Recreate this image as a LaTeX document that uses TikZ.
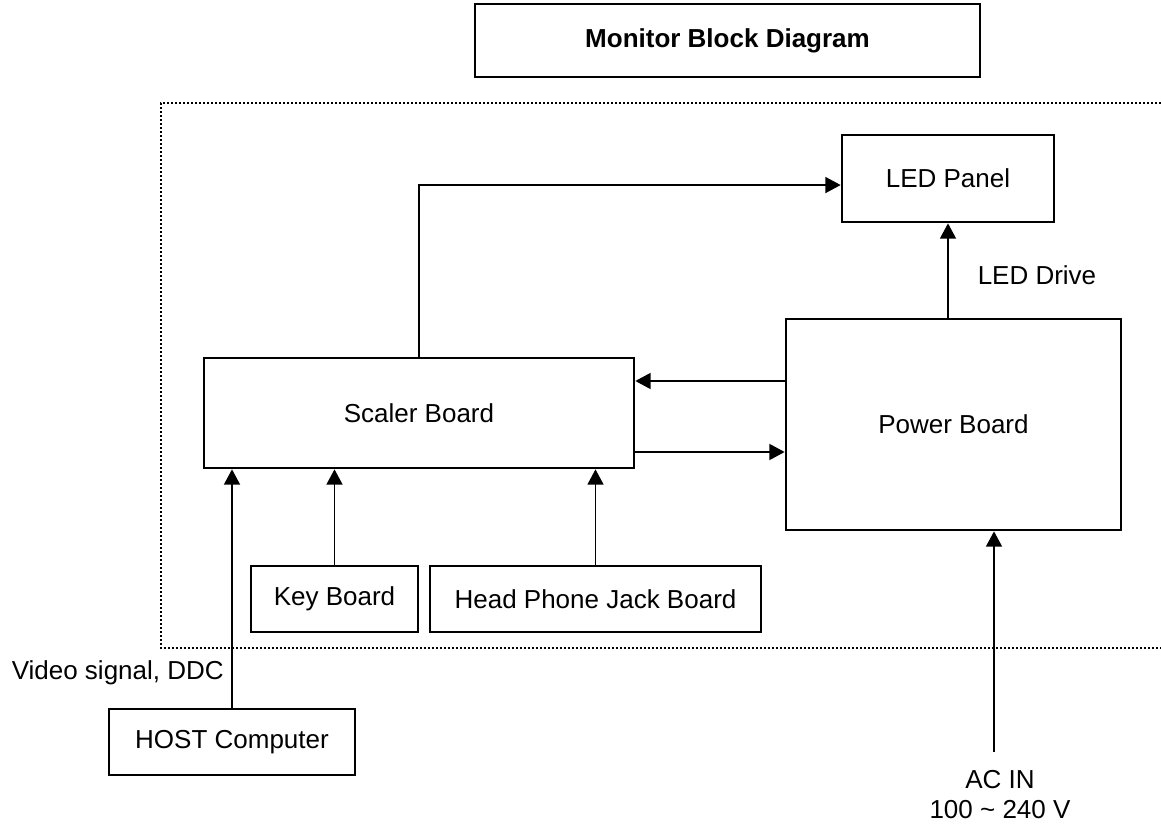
\documentclass[tikz,border=0pt]{standalone}
\usepackage{fontspec}
\setmainfont{Liberation Sans}
\usetikzlibrary{calc}
\usetikzlibrary{arrows.meta}

\begin{document}
\begin{tikzpicture}[x=0.75pt,y=-0.75pt,
		blk/.style={draw,line width=2pt,inner sep=0pt,font=\fontsize{19.5}{23}\selectfont},
		lbl/.style={inner sep=0pt,font=\fontsize{19.5}{22.5}\selectfont},
		sig/.style={line width=1.3pt,-{Triangle[length=11.5pt,width=12pt]}},
		frame/.style={line width=1.8pt,dash pattern=on 1.6pt off 1.4pt}]
		\useasboundingbox (0,0) rectangle (1161,827);
		% blocks
		\node[blk,minimum width=378.75pt,minimum height=54.75pt,font=\fontsize{19.5}{23}\selectfont\bfseries] (title) at (727.5,40.5) {Monitor Block Diagram};
		\draw[frame] (1161,103) -- (161,103) -- (161,648) -- (1161,648);
		\node[blk,minimum width=159pt,minimum height=65.25pt] (led) at (948,178.5) {LED Panel};
		\node[blk,minimum width=251.25pt,minimum height=158.25pt] (power) at (953.5,424.5) {Power Board};
		\node[blk,minimum width=322.5pt,minimum height=82.5pt] (scaler) at (419,413) {Scaler Board};
		\node[blk,minimum width=125.25pt,minimum height=49.5pt] (key) at (334.5,599) {Key Board};
		\node[blk,minimum width=248.25pt,minimum height=49.5pt] (hpj) at (595.5,599) {Head Phone Jack Board};
		\node[blk,minimum width=184.5pt,minimum height=49.5pt] (host) at (232,742) {HOST Computer};
		% labels
		\node[lbl] (drive) at (1037,275) {LED Drive};
		\node[lbl,anchor=east] (video) at (224,673) {Video signal, DDC};
		\node[lbl,align=center] (acin) at (1000,795) {AC IN\\100 \textasciitilde{} 240 V};
		\coordinate (acfoot) at (994,752);
		\coordinate (pb1) at ($(power.west)+(0,-43.5)$);
		\coordinate (sb1) at ($(scaler.east)+(0,39)$);
		% signals
		\draw[sig] (scaler.north) |- ([yshift=-4.9pt]led.west);
		\draw[sig] (led.south |- power.north) -- (led.south);
		\draw[sig] (pb1) -- (pb1 -| scaler.east);
		\draw[sig] (sb1) -- (sb1 -| power.west);
		\draw[sig] (host.north) -- (host.north |- scaler.south);
		\draw[sig] (key.north) -- (key.north |- scaler.south);
		\draw[sig] (hpj.north) -- (hpj.north |- scaler.south);
		\draw[sig] (acfoot) -- (acfoot |- power.south);
	\end{tikzpicture}
\end{document}
